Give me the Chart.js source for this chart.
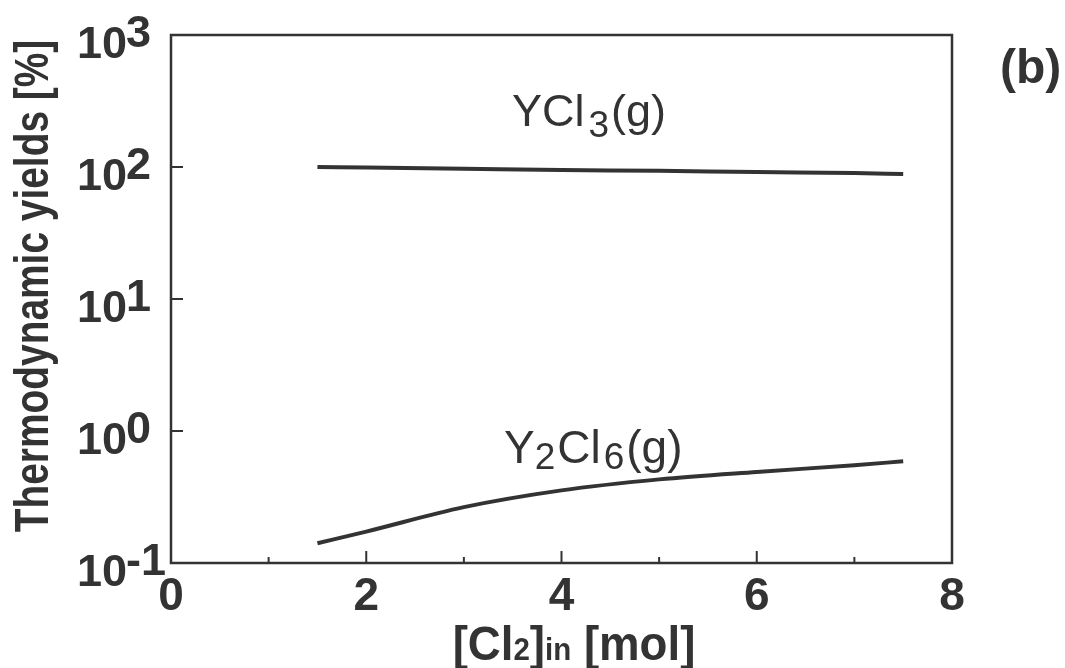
<!DOCTYPE html>
<html>
<head>
<meta charset="utf-8">
<script src="https://cdn.jsdelivr.net/npm/chart.js@4/dist/chart.umd.min.js"></script>
<style>
  html, body { margin: 0; padding: 0; background: #ffffff; }
  canvas { display: block; }
</style>
</head>
<body>
<canvas id="c" width="1065" height="668"></canvas>
<script>
// ---- data ----
const xValues = [1.5, 2, 3, 4, 5, 6, 7, 7.5];
const ycl3Values = [100, 99, 97, 95, 93.5, 91.5, 90, 88.5];
const y2cl6Values = [0.141, 0.173, 0.265, 0.355, 0.43, 0.49, 0.55, 0.59];
const xMajorTicks = [0, 2, 4, 6, 8];
const xMinorTicks = [1, 3, 5, 7];
const xTickLabels = ['0', '2', '4', '6', '8'];
const yTickValues = [0.1, 1, 10, 100, 1000];
const yTickExponents = ['-1', '0', '1', '2', '3'];
const seriesNames = ['YCl3(g)', 'Y2Cl6(g)'];

const INK = '#333333';
const FONT = '"Liberation Sans", Arial, Helvetica, sans-serif';

function toPoints(xs, ys) { return xs.map((x, i) => ({ x: x, y: ys[i] })); }

const decorPlugin = {
  id: 'decor',
  beforeDatasetsDraw(chart) {
    const ctx = chart.ctx, a = chart.chartArea;
    const xs = chart.scales.x, ys = chart.scales.y;
    ctx.save();
    ctx.strokeStyle = INK;
    ctx.lineWidth = 2.5;
    ctx.strokeRect(a.left, a.top, a.right - a.left, a.bottom - a.top);
    ctx.lineWidth = 2;
    ctx.beginPath();
    xMajorTicks.forEach(v => {
      const px = xs.getPixelForValue(v);
      if (v > xs.min && v < xs.max) { ctx.moveTo(px, a.bottom); ctx.lineTo(px, a.bottom - 12); }
    });
    xMinorTicks.forEach(v => {
      const px = xs.getPixelForValue(v);
      ctx.moveTo(px, a.bottom); ctx.lineTo(px, a.bottom - 6);
    });
    yTickValues.forEach(v => {
      const py = ys.getPixelForValue(v);
      if (v > ys.min && v < ys.max) { ctx.moveTo(a.left, py); ctx.lineTo(a.left + 12, py); }
    });
    ctx.stroke();
    ctx.restore();
  },
  afterDraw(chart) {
    const ctx = chart.ctx, a = chart.chartArea;
    const xs = chart.scales.x, ys = chart.scales.y;
    ctx.save();
    ctx.fillStyle = INK;
    ctx.textBaseline = 'alphabetic';

    // x tick labels
    ctx.font = 'bold 46px ' + FONT;
    ctx.textAlign = 'center';
    xMajorTicks.forEach((v, i) => {
      ctx.fillText(xTickLabels[i], xs.getPixelForValue(v), a.bottom + 47);
    });

    // y tick labels: 10 with raised exponent
    yTickValues.forEach((v, i) => {
      const py = ys.getPixelForValue(v);
      ctx.font = 'bold 45px ' + FONT;
      ctx.textAlign = 'right';
      ctx.fillText('10', a.left - 44, py + 23);
      ctx.textAlign = 'left';
      ctx.fillText(yTickExponents[i], a.left - 45, py + 12);
    });

    // y axis title (condensed)
    ctx.save();
    ctx.translate(48, 286);
    ctx.rotate(-Math.PI / 2);
    ctx.scale(0.81, 1);
    ctx.font = 'bold 48px ' + FONT;
    ctx.textAlign = 'center';
    ctx.fillText('Thermodynamic yields [%]', 0, 0);
    ctx.restore();

    // x axis title: [Cl2]in [mol]
    const parts = [
      { t: '[Cl', s: 48 }, { t: '2', s: 31 }, { t: ']', s: 48 },
      { t: 'in', s: 31 }, { t: ' [mol]', s: 48 }
    ];
    const sx = 0.95;
    let total = 0;
    parts.forEach(p => { ctx.font = 'bold ' + p.s + 'px ' + FONT; p.w = ctx.measureText(p.t).width * sx; total += p.w; });
    let cx = 574 - total / 2;
    ctx.textAlign = 'left';
    parts.forEach(p => {
      ctx.save();
      ctx.translate(cx, 660);
      ctx.scale(sx, 1);
      ctx.font = 'bold ' + p.s + 'px ' + FONT;
      ctx.fillText(p.t, 0, 0);
      ctx.restore();
      cx += p.w;
    });

    // series labels
    function drawChem(pieces, x, y, size, subSize, subDrop) {
      let cx2 = x;
      pieces.forEach(p => {
        const sz = p.sub ? subSize : size;
        ctx.font = sz + 'px ' + FONT;
        ctx.fillText(p.t, cx2, y + (p.sub ? subDrop : 0));
        cx2 += ctx.measureText(p.t).width + (p.sub ? 2 : (p.gap || 0));
      });
    }
    ctx.textAlign = 'left';
    drawChem([{ t: 'YCl', gap: 4 }, { t: '3', sub: true }, { t: '(g)' }], 512, 126, 45, 37, 11);
    drawChem([{ t: 'Y' }, { t: '2', sub: true }, { t: 'Cl', gap: 3 }, { t: '6', sub: true }, { t: '(g)' }], 504, 463, 46, 37, 6);

    // panel label
    ctx.font = 'bold 48px ' + FONT;
    ctx.fillText('(b)', 1000, 83);
    ctx.restore();
  }
};

new Chart(document.getElementById('c'), {
  type: 'line',
  data: {
    datasets: [
      {
        label: seriesNames[0],
        data: toPoints(xValues, ycl3Values),
        borderColor: INK, borderWidth: 4, pointRadius: 0,
        cubicInterpolationMode: 'monotone', fill: false
      },
      {
        label: seriesNames[1],
        data: toPoints(xValues, y2cl6Values),
        borderColor: INK, borderWidth: 4, pointRadius: 0,
        cubicInterpolationMode: 'monotone', fill: false
      }
    ]
  },
  options: {
    responsive: false,
    animation: false,
    devicePixelRatio: 1,
    layout: { padding: { left: 171, right: 113, top: 35, bottom: 105 } },
    plugins: { legend: { display: false }, tooltip: { enabled: false }, title: { display: false } },
    scales: {
      x: { type: 'linear', min: 0, max: 8, display: false },
      y: { type: 'logarithmic', min: 0.1, max: 1000, display: false }
    }
  },
  plugins: [decorPlugin]
});
</script>
</body>
</html>
